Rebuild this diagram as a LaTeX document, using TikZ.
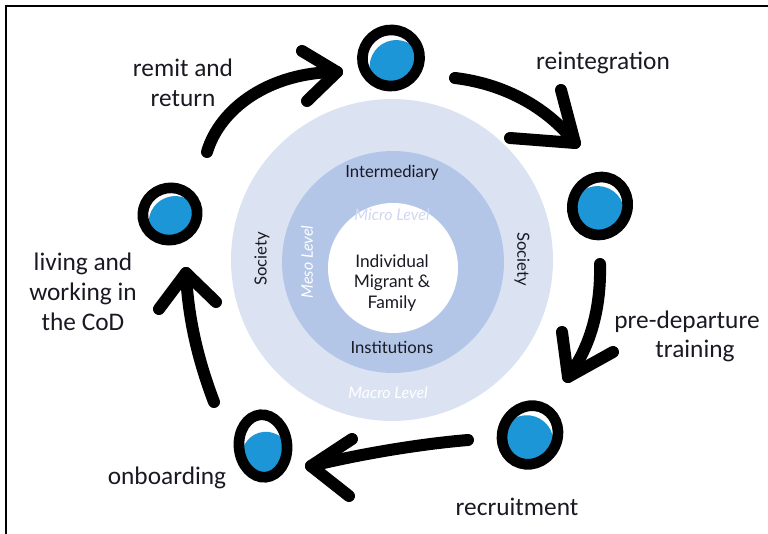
\documentclass[tikz,border=0pt]{standalone}
\usepackage{fontspec}
\setmainfont{Carlito}
\newfontfamily\centerfont{Lato}
\usetikzlibrary{shapes.geometric}
\definecolor{outerband}{RGB}{219,227,243}
\definecolor{midband}{RGB}{180,198,231}
\definecolor{blobblue}{RGB}{28,150,214}
\definecolor{microtxt}{RGB}{208,216,240}
\definecolor{txtdark}{RGB}{25,25,35}
\tikzset{
  blob/.style={ellipse, draw=black, line width=8pt, fill=white, inner sep=0pt,
    path picture={\fill[blobblue] ([shift={(1.5pt,-7.5pt)}]path picture bounding box.center)
      ellipse [x radius=#1, y radius=#1];}},
  blob/.default=20pt,
  arr/.style={line width=9pt, line cap=round, line join=round, black},
  lbl/.style={font=\fontsize{19}{22.5}\selectfont, align=center, text=txtdark, inner sep=0pt},
  ctr/.style={font=\centerfont\fontsize{12.5}{15}\selectfont, text=txtdark, inner sep=0pt, align=center},
  lvl/.style={font=\centerfont\itshape\fontsize{12}{14}\selectfont, inner sep=0pt},
}
\begin{document}
\begin{tikzpicture}[x=0.75pt, y=-0.75pt]
\useasboundingbox (0,0) rectangle (768,534);
% frame
\draw[line width=2.2pt] (6,534) -- (6,6) -- (124,6);
\draw[line width=0.9pt] (124,6) -- (652,6);
\draw[line width=2.2pt] (652,6) -- (768,6);
% concentric circles
\fill[outerband] (392,260) circle [radius=161];
\fill[midband] (393,262) circle [radius=111];
\fill[white] (393,268) circle [radius=65];
\node[ctr] (inter) at (392,173) {Intermediary};
\node[ctr] (inst) at (392,347) {Institutions};
\node[ctr, font=\centerfont\fontsize{13}{15.5}\selectfont] (indiv) at (392,283) {Individual\\Migrant \&\\Family};
\node[lvl, text=microtxt] (micro) at (392,215) {Micro Level};
\node[lvl, text=white, rotate=90] (meso) at (307,262) {Meso Level};
\node[lvl, text=white] (macro) at (388,393) {Macro Level};
\node[ctr, rotate=90] (socl) at (262,259) {Society};
\node[ctr, rotate=-90] (socr) at (522,259) {Society};
% blobs
\node[blob, minimum width=43pt, minimum height=42pt, rotate=20] (b1) at (391,58) {};
\node[blob, minimum width=41pt, minimum height=44pt, rotate=-25] (b2) at (600,206) {};
\node[blob, minimum width=41pt, minimum height=45pt, rotate=-30] (b3) at (530,435) {};
\node[blob=18pt, minimum width=36pt, minimum height=47pt, rotate=5] (b4) at (263,446) {};
\node[blob, minimum width=41pt, minimum height=39pt, rotate=20] (b5) at (170,214) {};
% arrow coordinates
\coordinate (a1s) at (207,152); \coordinate (a1t) at (337,72);
\coordinate (a1u) at (302,51); \coordinate (a1l) at (307,101);
\coordinate (a2s) at (455,78); \coordinate (a2t) at (575,143);
\coordinate (a2u) at (561,90); \coordinate (a2l) at (510,138);
\coordinate (a3s) at (600,264); \coordinate (a3t) at (568,377);
\coordinate (a3u) at (562,332); \coordinate (a3l) at (613,352);
\coordinate (a4s) at (468,440); \coordinate (a4t) at (311,466);
\coordinate (a4u) at (352,439); \coordinate (a4l) at (349,496);
\coordinate (a5s) at (214,402); \coordinate (a5t) at (186,273);
\coordinate (a5u) at (159,309); \coordinate (a5l) at (216,302);
% arrows
\draw[arr] (a1s) .. controls (220,108) and (270,72) .. (a1t);
\draw[arr] (a1u) -- (a1t) -- (a1l);
\draw[arr] (a2s) .. controls (505,84) and (548,108) .. (a2t);
\draw[arr] (a2u) -- (a2t) -- (a2l);
\draw[arr] (a3s) .. controls (601,305) and (592,345) .. (a3t);
\draw[arr] (a3u) -- (a3t) -- (a3l);
\draw[arr] (a4s) .. controls (420,444) and (360,454) .. (a4t);
\draw[arr] (a4u) -- (a4t) -- (a4l);
\draw[arr] (a5s) .. controls (198,360) and (188,318) .. (a5t);
\draw[arr] (a5u) -- (a5t) -- (a5l);
% labels
\node[lbl] (l1) at (183,83) {remit and\\return};
\node[lbl] (l2) at (603,63) {reintegration};
\node[lbl] (l3) at (83,292) {living and\\working in\\the CoD};
\node[lbl] (l4a) at (687,322) {pre-departure};
\node[lbl] (l4b) at (695,351) {training};
\node[lbl] (l5) at (167,478) {onboarding};
\node[lbl] (l6) at (517,507) {recruitment};
\end{tikzpicture}
\end{document}
